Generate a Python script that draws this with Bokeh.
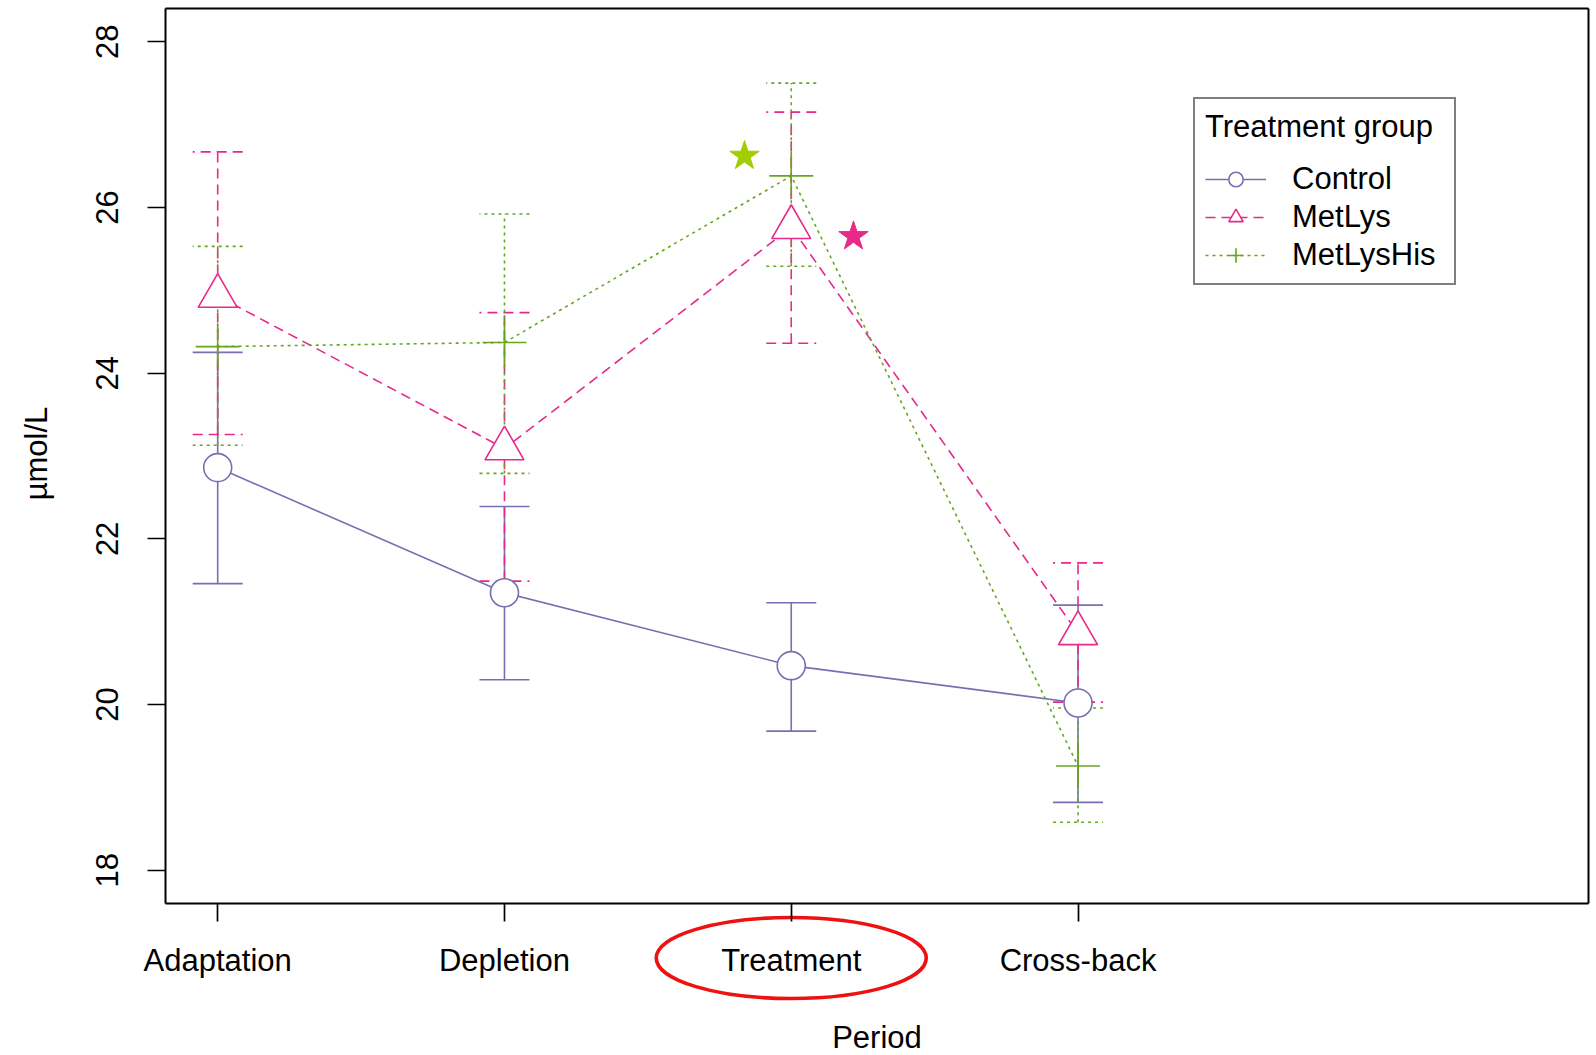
import numpy as np
from bokeh.plotting import figure
from bokeh.models import (ColumnDataSource, Whisker, TeeHead, FixedTicker, Legend,
                          LegendItem, LinearAxis, Range1d, Label)
from bokeh.embed import file_html
from bokeh.resources import INLINE

# ---------------- data ----------------
periods = ["Adaptation", "Depletion", "Treatment", "Cross-back"]
groups = ["Control", "MetLys", "MetLysHis"]

control_mean = [22.86, 21.35, 20.47, 20.02]
control_upper = [24.25, 22.39, 21.23, 21.20]
control_lower = [21.46, 20.30, 19.68, 18.82]

metlys_mean = [24.93, 23.09, 25.76, 20.86]
metlys_upper = [26.67, 24.73, 27.15, 21.71]
metlys_lower = [23.26, 21.49, 24.36, 20.03]

metlyshis_mean = [24.32, 24.37, 26.38, 19.26]
metlyshis_upper = [25.53, 25.92, 27.50, 19.96]
metlyshis_lower = [23.13, 22.79, 25.29, 18.58]

y_ticks = [18, 20, 22, 24, 26, 28]

# significance stars (x in period index units, y in µmol/L)
star_x = [2.837, 3.217]
star_y = [26.62, 25.65]
star_colors = ["#A2CD00", "#E7298A"]

highlight_period = "Treatment"

# ---------------- layout / styling ----------------
FONT = "Liberation Sans"
FS = "31px"
colors = ["#7570B3", "#E7298A", "#66A61E"]
dashes = ["solid", "10 6", "3 4"]
markers = ["circle", "triangle", "cross"]
msizes = [28, 39, 44]

W, H = 1590, 1054
BOX_L, BOX_R, BOX_T, BOX_B = 165, 1588, 8, 903   # plotting box in pixels
X0, X1 = 0.818, 5.78      # plotting box (x, data)
Y0, Y1 = 17.6, 28.4       # plotting box (y, data)
sx = (BOX_R - BOX_L) / (X1 - X0)
sy = (BOX_B - BOX_T) / (Y1 - Y0)

x = list(range(1, len(periods) + 1))

# the frame covers the whole canvas; the axes are pinned to the plotting box
p = figure(width=W, height=H, output_backend="svg", toolbar_location=None,
           x_range=Range1d(X0 - BOX_L / sx, X1 + (W - BOX_R) / sx),
           y_range=Range1d(Y0 - (H - BOX_B) / sy, Y1 + BOX_T / sy),
           min_border_left=0, min_border_right=0, min_border_top=0,
           min_border_bottom=0)
p.grid.visible = False
p.outline_line_color = None
p.background_fill_color = "white"
p.border_fill_color = "white"

xa = p.xaxis[0]
ya = p.yaxis[0]
xa.fixed_location = Y0
ya.fixed_location = X0
xa.bounds = (X0, X1)
ya.bounds = (Y0, Y1)
xa.ticker = FixedTicker(ticks=x)
xa.major_label_overrides = {i: name for i, name in zip(x, periods)}
ya.ticker = FixedTicker(ticks=y_ticks)
ya.major_label_orientation = "vertical"

for ax in (xa, ya):
    ax.axis_line_color = "black"
    ax.axis_line_width = 2
    ax.major_tick_out = 18
    ax.major_tick_in = 0
    ax.major_tick_line_width = 1.7
    ax.major_tick_line_color = "black"
    ax.minor_tick_line_color = None
    ax.major_label_text_font = FONT
    ax.major_label_text_font_size = FS
    ax.major_label_text_color = "black"
    ax.axis_label_text_font = FONT
    ax.axis_label_text_font_size = FS
    ax.axis_label_text_font_style = "normal"
    ax.axis_label_text_color = "black"

xa.major_label_standoff = 21
ya.major_label_standoff = 29
xa.axis_label = "Period"
xa.axis_label_standoff = 39

# y-axis title, centred on the plotting box
p.add_layout(Label(x=X0 - 129.5 / sx, y=(Y0 + Y1) / 2 + 0.03, text="µmol/L",
                   angle=np.pi / 2, text_align="center", text_baseline="middle",
                   text_font=FONT, text_font_size=FS, text_color="black"))

# top and right edges of the box
top_ax = LinearAxis(fixed_location=Y1, bounds=(X0, X1), ticker=FixedTicker(ticks=[]),
                    axis_line_color="black", axis_line_width=2,
                    major_label_text_font_size="0px")
right_ax = LinearAxis(fixed_location=X1, bounds=(Y0, Y1), ticker=FixedTicker(ticks=[]),
                      axis_line_color="black", axis_line_width=2,
                      major_label_text_font_size="0px")
p.add_layout(top_ax, "above")
p.add_layout(right_ax, "right")

series = [
    (groups[0], control_mean, control_lower, control_upper),
    (groups[1], metlys_mean, metlys_lower, metlys_upper),
    (groups[2], metlyshis_mean, metlyshis_lower, metlyshis_upper),
]

sources = []
line_rs = []
for i, (name, mean, lower, upper) in enumerate(series):
    src = ColumnDataSource(dict(x=x, mean=mean, lower=lower, upper=upper))
    sources.append(src)
    lr = p.line("x", "mean", source=src, line_color=colors[i], line_width=1.6,
                line_dash=dashes[i])
    line_rs.append(lr)

marker_rs = []
for i, src in enumerate(sources):
    mr = p.scatter("x", "mean", source=src, marker=markers[i], size=msizes[i],
                   line_color=colors[i], line_width=1.6, fill_color="white")
    marker_rs.append(mr)

for i, src in enumerate(sources):
    w = Whisker(base="x", upper="upper", lower="lower", source=src, dimension="height",
                line_color=colors[i], line_width=1.6, line_dash=dashes[i],
                upper_head=TeeHead(size=50, line_color=colors[i], line_width=1.6,
                                   line_dash=dashes[i]),
                lower_head=TeeHead(size=50, line_color=colors[i], line_width=1.6,
                                   line_dash=dashes[i]))
    p.add_layout(w)

# stars
p.scatter(star_x, star_y, marker="star", size=31, fill_color=star_colors,
          line_color=star_colors)

# highlight ring around the Treatment tick label
cx = periods.index(highlight_period) + 1
p.ellipse(x=[cx], y=[Y0 - 54.5 / sy], width=270 / sx, height=81 / sy,
          fill_color=None, line_color="#EE1111", line_width=3.6)

items = [LegendItem(label=groups[i], renderers=[line_rs[i], marker_rs[i]])
         for i in range(3)]
legend = Legend(items=items, location=(1193, 769), title="Treatment group")
legend.title_text_font = FONT
legend.title_text_font_size = FS
legend.title_text_font_style = "normal"
legend.title_text_color = "black"
legend.title_standoff = 16
legend.label_text_font = FONT
legend.label_text_font_size = FS
legend.label_text_color = "black"
legend.glyph_width = 61
legend.glyph_height = 36
legend.label_height = 36
legend.label_width = 152
legend.label_standoff = 26
legend.spacing = 2
legend.padding = 10
legend.margin = 0
legend.border_line_color = "black"
legend.border_line_width = 2
legend.background_fill_color = "white"
legend.background_fill_alpha = 1
p.add_layout(legend)

open("out.html", "w").write(file_html(p, INLINE))
